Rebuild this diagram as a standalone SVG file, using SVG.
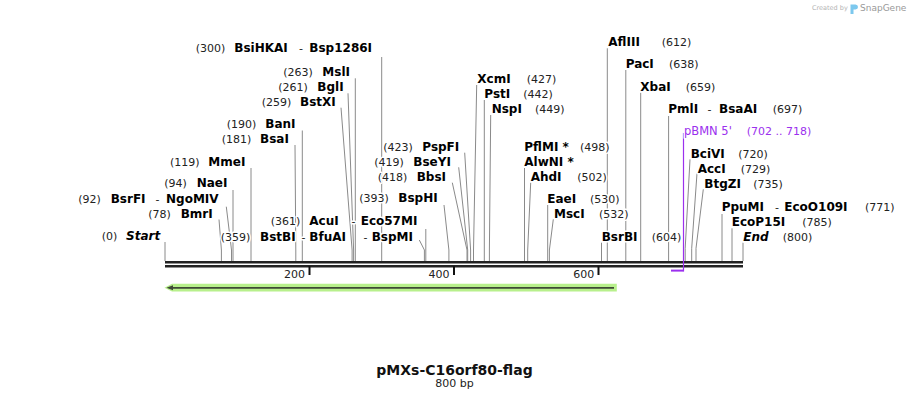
<svg xmlns="http://www.w3.org/2000/svg" width="909" height="400" viewBox="0 0 909 400">
<style>
text{font-family:"DejaVu Sans","Verdana",sans-serif;paint-order:stroke;stroke:#fff;stroke-width:3px;stroke-linejoin:round}
.n{font-size:12px;font-weight:bold;fill:#000}
.i{font-style:italic}
.c{font-size:11px;fill:#222}
.p{fill:#9b30ee}
.ln{fill:none;stroke:#8a8a8a;stroke-width:1}
.bb{stroke:#222;stroke-width:2.4}
.tk{font-size:11px;fill:#222;text-anchor:end}
</style>
<rect width="909" height="400" fill="#fff"/>

<g id="watermark">
<text x="812" y="10" style="font-size:6.5px;fill:#b4b4b4;stroke:none">Created by</text>
<path d="M850.5,4.5 h5 a2.5,2.5 0 0 1 0,5 h-2 v4.5 h-3 z" fill="#7cc8ee"/>
<text x="860" y="11" style="font-size:9px;fill:#999;stroke:none">SnapGene</text>
</g>

<g id="backbone">
<line class="bb" x1="165" y1="262.2" x2="743" y2="262.2"/>
<line class="bb" x1="165" y1="266.2" x2="743" y2="266.2"/>
<rect x="308.5" y="266" width="2" height="9" fill="#111"/>
<rect x="453" y="266" width="2" height="9" fill="#111"/>
<rect x="597.5" y="266" width="2" height="9" fill="#111"/>
<text class="tk" x="305" y="277.7">200</text>
<text class="tk" x="449.5" y="277.7">400</text>
<text class="tk" x="594.3" y="277.7">600</text>
</g>

<g id="orf-arrow">
<path d="M164.5,287.7 L172,283.8 L616.8,283.8 L616.8,291.6 L172,291.6 Z" fill="#b8f08c"/>
<line x1="171" y1="287.8" x2="614" y2="287.8" stroke="#3f4a36" stroke-width="1.8"/>
<path d="M166.5,287.8 L173,285.3 L173,290.3 Z" fill="#3f4a36"/>
</g>

<g id="connectors">
<polyline class="ln" points="165,242 165,261"/>
<polyline class="ln" points="219,219.5 221.4,250 221.4,261"/>
<polyline class="ln" points="226.3,206.7 231.5,250 231.5,261"/>
<polyline class="ln" points="233,190 233,261"/>
<polyline class="ln" points="251,168 251,261"/>
<polyline class="ln" points="295,145 295.8,250 295.8,261"/>
<polyline class="ln" points="302.3,130.5 302.3,261"/>
<polyline class="ln" points="341,107.7 352.1,250 352.1,261"/>
<polyline class="ln" points="348,93.3 353.6,250 353.6,261"/>
<polyline class="ln" points="355.3,78.3 355.3,261"/>
<polyline class="ln" points="381.7,57 381.7,261"/>
<polyline class="ln" points="419.3,240 424.4,250 424.4,261"/>
<polyline class="ln" points="425.8,229 425.8,261"/>
<polyline class="ln" points="444,205 448.9,250 448.9,261"/>
<polyline class="ln" points="452.3,182.7 467,250 467,261"/>
<polyline class="ln" points="458.7,167.3 467.7,250 467.7,261"/>
<polyline class="ln" points="464.7,152.7 470.6,250 470.6,261"/>
<polyline class="ln" points="476.7,85 473.5,250 473.5,261"/>
<polyline class="ln" points="484.3,100 484.3,261"/>
<polyline class="ln" points="490.7,115 489.4,250 489.4,261"/>
<polyline class="ln" points="524.5,168 524.5,261"/>
<polyline class="ln" points="530.7,182.7 527.7,250 527.7,261"/>
<polyline class="ln" points="547.7,205 547.7,261"/>
<polyline class="ln" points="553.3,219.3 549.4,250 549.4,261"/>
<polyline class="ln" points="601.5,242.7 601.5,261"/>
<polyline class="ln" points="607.3,48.3 607.3,261"/>
<polyline class="ln" points="625.8,70 625.8,261"/>
<polyline class="ln" points="640.7,92.7 640.7,261"/>
<polyline class="ln" points="668.6,116 668.6,261"/>
<polyline class="ln" points="690,159.3 685.2,248.3 685.2,261"/>
<polyline class="ln" points="697,173.3 691.7,248.3 691.7,261"/>
<polyline class="ln" points="703.3,189.3 696,248.3 696,261"/>
<polyline class="ln" points="722,214 722,261"/>
<polyline class="ln" points="732,228.3 732,261"/>
<polyline class="ln" points="743,242.7 743,261"/>
<line x1="683.5" y1="133" x2="683.5" y2="271.5" stroke="#9b30ee" stroke-width="1.2"/>
<line x1="671" y1="270.6" x2="683.5" y2="270.6" stroke="#9b30ee" stroke-width="2"/>
</g>

<g id="start"><text class="c" x="101.7" y="240">(0)</text><text class="n i" x="126" y="240">Start</text></g>
<g id="bmri"><text class="c" x="148.3" y="217.7">(78)</text><text class="n" x="180.7" y="217.7">BmrI</text></g>
<g id="bsrfi-ngomiv"><text class="c" x="78.3" y="202.7">(92)</text><text class="n" x="110.7" y="202.7">BsrFI</text><text class="c" x="155.5" y="202.7">-</text><text class="n" x="166" y="202.7">NgoMIV</text></g>
<g id="naei"><text class="c" x="164.3" y="187.3">(94)</text><text class="n" x="196.7" y="187.3">NaeI</text></g>
<g id="mmei"><text class="c" x="170" y="166">(119)</text><text class="n" x="208.3" y="166">MmeI</text></g>
<g id="bsai"><text class="c" x="221.7" y="142.7">(181)</text><text class="n" x="260" y="142.7">BsaI</text></g>
<g id="bani"><text class="c" x="226.7" y="127.7">(190)</text><text class="n" x="265.3" y="127.7">BanI</text></g>
<g id="bstxi"><text class="c" x="261.7" y="105.7">(259)</text><text class="n" x="300" y="105.7">BstXI</text></g>
<g id="bgli"><text class="c" x="278.3" y="90.7">(261)</text><text class="n" x="317.3" y="90.7">BglI</text></g>
<g id="msli"><text class="c" x="283.3" y="75.7">(263)</text><text class="n" x="322.3" y="75.7">MslI</text></g>
<g id="bsihkai-bsp1286i"><text class="c" x="195.7" y="52.3">(300)</text><text class="n" x="234.3" y="52.3">BsiHKAI</text><text class="c" x="299" y="52.3">-</text><text class="n" x="309.3" y="52.3">Bsp1286I</text></g>
<g id="bstbi-bfuai-bspmi"><text class="c" x="220.7" y="240.7">(359)</text><text class="n" x="260" y="240.7">BstBI</text><text class="c" x="301.5" y="240.7">-</text><text class="n" x="309.3" y="240.7">BfuAI</text><text class="c" x="363.5" y="240.7">-</text><text class="n" x="371.7" y="240.7">BspMI</text></g>
<g id="acui-eco57mi"><text class="c" x="270.7" y="225.3">(361)</text><text class="n" x="309.3" y="225.3">AcuI</text><text class="c" x="351.5" y="225.3">-</text><text class="n" x="360.7" y="225.3">Eco57MI</text></g>
<g id="bsphi"><text class="c" x="359.3" y="202.3">(393)</text><text class="n" x="398.3" y="202.3">BspHI</text></g>
<g id="bbsi"><text class="c" x="377.7" y="180.7">(418)</text><text class="n" x="416.7" y="180.7">BbsI</text></g>
<g id="bseyi"><text class="c" x="374.3" y="165.7">(419)</text><text class="n" x="413.3" y="165.7">BseYI</text></g>
<g id="pspfi"><text class="c" x="383.3" y="150.7">(423)</text><text class="n" x="422.3" y="150.7">PspFI</text></g>
<g id="xcmi"><text class="n" x="477.3" y="82.7">XcmI</text><text class="c" x="526.7" y="82.7">(427)</text></g>
<g id="psti"><text class="n" x="484.3" y="97.5">PstI</text><text class="c" x="523.3" y="97.5">(442)</text></g>
<g id="nspi"><text class="n" x="491.7" y="112.7">NspI</text><text class="c" x="535" y="112.7">(449)</text></g>
<g id="pflmi"><text class="n" x="524.3" y="150.7">PflMI *</text><text class="c" x="580" y="150.7">(498)</text></g>
<g id="alwni"><text class="n" x="524.3" y="165.7">AlwNI *</text></g>
<g id="ahdi"><text class="n" x="530.7" y="180.7">AhdI</text><text class="c" x="577.3" y="180.7">(502)</text></g>
<g id="eaei"><text class="n" x="547.3" y="202.7">EaeI</text><text class="c" x="590" y="202.7">(530)</text></g>
<g id="msci"><text class="n" x="554" y="217.7">MscI</text><text class="c" x="599" y="217.7">(532)</text></g>
<g id="bsrbi"><text class="n" x="601.7" y="240.7">BsrBI</text><text class="c" x="651.7" y="240.7">(604)</text></g>
<g id="afliii"><text class="n" x="608.3" y="46">AflIII</text><text class="c" x="661.7" y="46">(612)</text></g>
<g id="paci"><text class="n" x="625.7" y="67.7">PacI</text><text class="c" x="669" y="67.7">(638)</text></g>
<g id="xbai"><text class="n" x="640.3" y="91">XbaI</text><text class="c" x="685.7" y="91">(659)</text></g>
<g id="pmli-bsaai"><text class="n" x="668.3" y="112.7">PmlI</text><text class="c" x="707.5" y="112.7">-</text><text class="n" x="719" y="112.7">BsaAI</text><text class="c" x="772.7" y="112.7">(697)</text></g>
<g id="pbmn5"><text class="p" style="font-size:11.5px" x="684" y="135">pBMN 5'</text><text class="c p" x="746.7" y="135">(702 .. 718)</text></g>
<g id="bcivi"><text class="n" x="690.7" y="157.7">BciVI</text><text class="c" x="738.3" y="157.7">(720)</text></g>
<g id="acci"><text class="n" x="697.7" y="172.7">AccI</text><text class="c" x="740.7" y="172.7">(729)</text></g>
<g id="btgzi"><text class="n" x="704.3" y="187.7">BtgZI</text><text class="c" x="753.3" y="187.7">(735)</text></g>
<g id="ppumi-ecoo109i"><text class="n" x="721.7" y="210.7">PpuMI</text><text class="c" x="775" y="210.7">-</text><text class="n" x="784.3" y="210.7">EcoO109I</text><text class="c" x="865" y="210.7">(771)</text></g>
<g id="ecop15i"><text class="n" x="731.7" y="225.7">EcoP15I</text><text class="c" x="802.3" y="225.7">(785)</text></g>
<g id="end"><text class="n i" x="743.3" y="240.7">End</text><text class="c" x="782.7" y="240.7">(800)</text></g>

<g id="title">
<text x="454.5" y="375" text-anchor="middle" style="font-size:14px;font-weight:bold;fill:#111;stroke:none">pMXs-C16orf80-flag</text>
<text x="454.5" y="386.7" text-anchor="middle" style="font-size:11px;fill:#222;stroke:none">800 bp</text>
</g>
</svg>
